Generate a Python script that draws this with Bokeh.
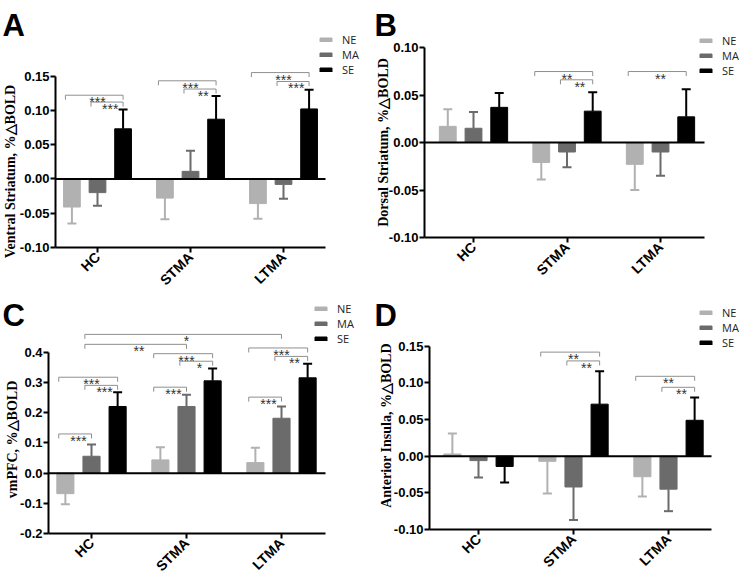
import math
from bokeh.plotting import figure
from bokeh.layouts import column, row
from bokeh.models import (FixedTicker, NumeralTickFormatter, Legend,
                          LegendItem, Range1d)
from bokeh.embed import file_html
from bokeh.resources import INLINE
from bokeh.core.properties import value

# ---------------- data ----------------
groups = ["HC", "STMA", "LTMA"]
series = ["NE", "MA", "SE"]

# Panel A - Ventral Striatum
a_ne = [-0.041, -0.028, -0.036]
a_ma = [-0.020, 0.011, -0.008]
a_se = [0.073, 0.087, 0.102]
a_ne_sem = [0.024, 0.031, 0.022]
a_ma_sem = [0.019, 0.030, 0.021]
a_se_sem = [0.028, 0.034, 0.028]
a_ticks = [-0.10, -0.05, 0.00, 0.05, 0.10, 0.15]
# (group1, series1, group2, series2, height, label)
a_sig = [(0, 0, 0, 2, 0.122, "***"), (0, 1, 0, 2, 0.112, "***"),
         (1, 0, 1, 2, 0.143, "***"), (1, 1, 1, 2, 0.131, "**"),
         (2, 0, 2, 2, 0.155, "***"), (2, 1, 2, 2, 0.142, "***")]

# Panel B - Dorsal Striatum
b_ne = [0.017, -0.021, -0.023]
b_ma = [0.015, -0.010, -0.010]
b_se = [0.037, 0.033, 0.027]
b_ne_sem = [0.018, 0.018, 0.027]
b_ma_sem = [0.017, 0.016, 0.025]
b_se_sem = [0.015, 0.020, 0.029]
b_ticks = [-0.10, -0.05, 0.00, 0.05, 0.10]
b_sig = [(1, 0, 1, 2, 0.0747, "**"), (1, 1, 1, 2, 0.066, "**"),
         (2, 0, 2, 2, 0.0747, "**")]

# Panel C - vmPFC
c_ne = [-0.068, 0.044, 0.035]
c_ma = [0.056, 0.221, 0.182]
c_se = [0.221, 0.306, 0.316]
c_ne_sem = [0.035, 0.042, 0.049]
c_ma_sem = [0.039, 0.039, 0.039]
c_se_sem = [0.047, 0.041, 0.047]
c_ticks = [-0.2, -0.1, 0.0, 0.1, 0.2, 0.3, 0.4]
c_sig = [(0, 0, 0, 1, 0.130, "***"), (0, 0, 0, 2, 0.318, "***"),
         (0, 1, 0, 2, 0.291, "***"), (1, 0, 1, 1, 0.285, "***"),
         (1, 0, 1, 2, 0.396, "***"), (1, 1, 1, 2, 0.371, "*"),
         (2, 0, 2, 1, 0.252, "***"), (2, 0, 2, 2, 0.415, "***"),
         (2, 1, 2, 2, 0.387, "**"), (0, 1, 1, 1, 0.427, "**"),
         (0, 1, 2, 1, 0.460, "*")]

# Panel D - Anterior Insula
d_ne = [0.003, -0.007, -0.028]
d_ma = [-0.006, -0.042, -0.045]
d_se = [-0.014, 0.071, 0.049]
d_ne_sem = [0.028, 0.044, 0.027]
d_ma_sem = [0.023, 0.045, 0.030]
d_se_sem = [0.022, 0.045, 0.031]
d_ticks = [-0.10, -0.05, 0.00, 0.05, 0.10, 0.15]
d_sig = [(1, 0, 1, 2, 0.142, "**"), (1, 1, 1, 2, 0.130, "**"),
         (2, 0, 2, 2, 0.109, "**"), (2, 1, 2, 2, 0.094, "**")]

# ---------------- style ----------------
BAR_COLORS = ["#b1b1b1", "#6b6b6b", "#000000"]
OFFSETS = [-0.275, 0.0, 0.275]
BAR_W = 0.18
SANS = "Liberation Sans"
SERIF = "Liberation Serif"


def make_panel(cfg, means, sems, ticks, sig):
    W, H = cfg["W"], cfg["H"]
    fl, fb = cfg["fl"], cfg["fb"]
    pxu, y_lo = cfg["pxu"], cfg["y_lo"]
    cat0, pxc = cfg["cat0"], cfg["pxc"]

    def dx(fx):
        return (fx - cat0) / pxc

    def dy(fy):
        return y_lo + (fb - fy) / pxu

    x_axis_lo = dx(fl)
    x_axis_hi = dx(cfg["axis_right"])

    p = figure(width=W, height=H, x_range=Range1d(dx(0), dx(W)),
               y_range=Range1d(dy(H), dy(0)), output_backend="svg",
               toolbar_location=None, min_border=0, min_border_left=0,
               min_border_right=0, min_border_top=0, min_border_bottom=0)
    p.outline_line_color = None
    p.xgrid.visible = False
    p.ygrid.visible = False
    p.background_fill_color = "white"
    p.border_fill_color = "white"

    renderers = []
    for j in range(3):
        xs = [i + OFFSETS[j] for i in range(3)]
        r = p.vbar(x=xs, top=means[j], bottom=0, width=BAR_W,
                   fill_color=BAR_COLORS[j], line_color=BAR_COLORS[j])
        renderers.append(r)
    cap = 4.5 / pxc
    for j in range(3):
        xs = [i + OFFSETS[j] for i in range(3)]
        ends = [m + (s if m >= 0 else -s) for m, s in zip(means[j], sems[j])]
        p.segment(x0=xs, y0=means[j], x1=xs, y1=ends,
                  line_color=BAR_COLORS[j], line_width=2)
        p.segment(x0=[x - cap for x in xs], y0=ends,
                  x1=[x + cap for x in xs], y1=ends,
                  line_color=BAR_COLORS[j], line_width=2)

    # zero line
    p.segment(x0=[x_axis_lo], y0=[0], x1=[x_axis_hi], y1=[0],
              line_color="black", line_width=2)

    # significance brackets
    tick = 4.5 / pxu
    bxs, bys, tx, ty, tt = [], [], [], [], []
    for (g1, s1, g2, s2, yv, lab) in sig:
        xa = g1 + OFFSETS[s1] - 0.07
        xb = g2 + OFFSETS[s2]
        bxs.append([xa, xa, xb, xb])
        bys.append([yv - tick, yv, yv, yv - tick])
        tx.append((g1 + OFFSETS[s1] + g2 + OFFSETS[s2]) / 2)
        ty.append(yv)
        tt.append(lab)
    p.multi_line(xs=bxs, ys=bys, line_color="#8f8f8f", line_width=1)
    p.text(x=tx, y=ty, text=tt, text_align="center", text_baseline="top",
           text_font=value(SANS), text_font_size="14px", text_color="#333333",
           y_offset=-1)

    # axes (fixed inside the full-size frame)
    p.yaxis.fixed_location = x_axis_lo
    p.xaxis.fixed_location = y_lo
    p.yaxis.ticker = FixedTicker(ticks=ticks)
    p.yaxis.formatter = NumeralTickFormatter(format=cfg["fmt"])
    p.yaxis.bounds = (y_lo, max(ticks))
    p.xaxis.ticker = FixedTicker(ticks=[0, 1, 2])
    p.xaxis.major_label_overrides = {i: g for i, g in enumerate(groups)}
    p.xaxis.bounds = (x_axis_lo, x_axis_hi)
    p.xaxis.major_label_orientation = math.pi / 4
    for ax in (p.xaxis, p.yaxis):
        ax.axis_line_width = 2
        ax.axis_line_color = "black"
        ax.major_tick_line_width = 2
        ax.major_tick_line_color = "black"
        ax.major_tick_out = 5
        ax.major_tick_in = 0
        ax.minor_tick_out = 0
        ax.minor_tick_in = 0
        ax.major_label_text_font = SANS
        ax.major_label_text_font_style = "bold"
        ax.major_label_text_color = "black"
    p.yaxis.major_label_standoff = 1
    p.xaxis.major_label_standoff = 2
    p.yaxis.major_label_text_font_size = "13px"
    p.xaxis.major_label_text_font_size = "14px"

    # y label & panel letter
    p.text(x=[dx(cfg["ylab_x"])], y=[dy(cfg["ylab_y"])], text=[cfg["ylabel"]],
           angle=math.pi / 2, text_align="center", text_baseline="middle",
           text_font=value(SERIF), text_font_style="bold",
           text_font_size="14px", text_color="black")
    p.text(x=[dx(cfg["letter_x"])], y=[dy(cfg["letter_y"])],
           text=[cfg["letter"]], text_align="left",
           text_baseline="alphabetic", text_font=value(SANS),
           text_font_style="bold", text_font_size="31px", text_color="black")

    # legend
    leg_h = 45
    legend = Legend(items=[LegendItem(label=s, renderers=[r])
                           for s, r in zip(series, renderers)],
                    location=(cfg["leg_x"], H - cfg["leg_y"] - leg_h),
                    glyph_width=15, glyph_height=5, label_height=14,
                    label_text_font="Open Sans", label_text_font_size="11px",
                    label_text_color="#222222", label_standoff=9, spacing=0,
                    padding=0, margin=0, border_line_color=None,
                    background_fill_alpha=0)
    p.add_layout(legend)
    return p


cfg_a = dict(W=371, H=290, fl=55, fb=247, pxu=686, y_lo=-0.10, cat0=97,
             pxc=93, axis_right=325, fmt="0.00", ylab_x=10, ylab_y=171,
             letter="A", letter_x=2, letter_y=25, leg_x=318, leg_y=32,
             ylabel="Ventral Striatum, %△BOLD")
cfg_b = dict(W=371, H=290, fl=53, fb=237, pxu=950, y_lo=-0.10, cat0=102,
             pxc=93.5, axis_right=333, fmt="0.00", ylab_x=12, ylab_y=142,
             letter="B", letter_x=3, letter_y=25, leg_x=327, leg_y=33,
             ylabel="Dorsal Striatum, %△BOLD")
cfg_c = dict(W=371, H=289, fl=48, fb=243, pxu=301.7, y_lo=-0.2, cat0=91,
             pxc=95, axis_right=325, fmt="0.0", ylab_x=12, ylab_y=149,
             letter="C", letter_x=2, letter_y=25, leg_x=313, leg_y=11,
             ylabel="vmPFC, %△BOLD")
cfg_d = dict(W=371, H=289, fl=58, fb=239, pxu=733, y_lo=-0.10, cat0=107,
             pxc=95, axis_right=340, fmt="0.00", ylab_x=15, ylab_y=135,
             letter="D", letter_x=3, letter_y=25, leg_x=327, leg_y=15,
             ylabel="Anterior Insula, %△BOLD")

pa = make_panel(cfg_a, [a_ne, a_ma, a_se], [a_ne_sem, a_ma_sem, a_se_sem], a_ticks, a_sig)
pb = make_panel(cfg_b, [b_ne, b_ma, b_se], [b_ne_sem, b_ma_sem, b_se_sem], b_ticks, b_sig)
pc = make_panel(cfg_c, [c_ne, c_ma, c_se], [c_ne_sem, c_ma_sem, c_se_sem], c_ticks, c_sig)
pd = make_panel(cfg_d, [d_ne, d_ma, d_se], [d_ne_sem, d_ma_sem, d_se_sem], d_ticks, d_sig)

layout = column(row(pa, pb), row(pc, pd))
open("out.html", "w").write(file_html(layout, INLINE))
